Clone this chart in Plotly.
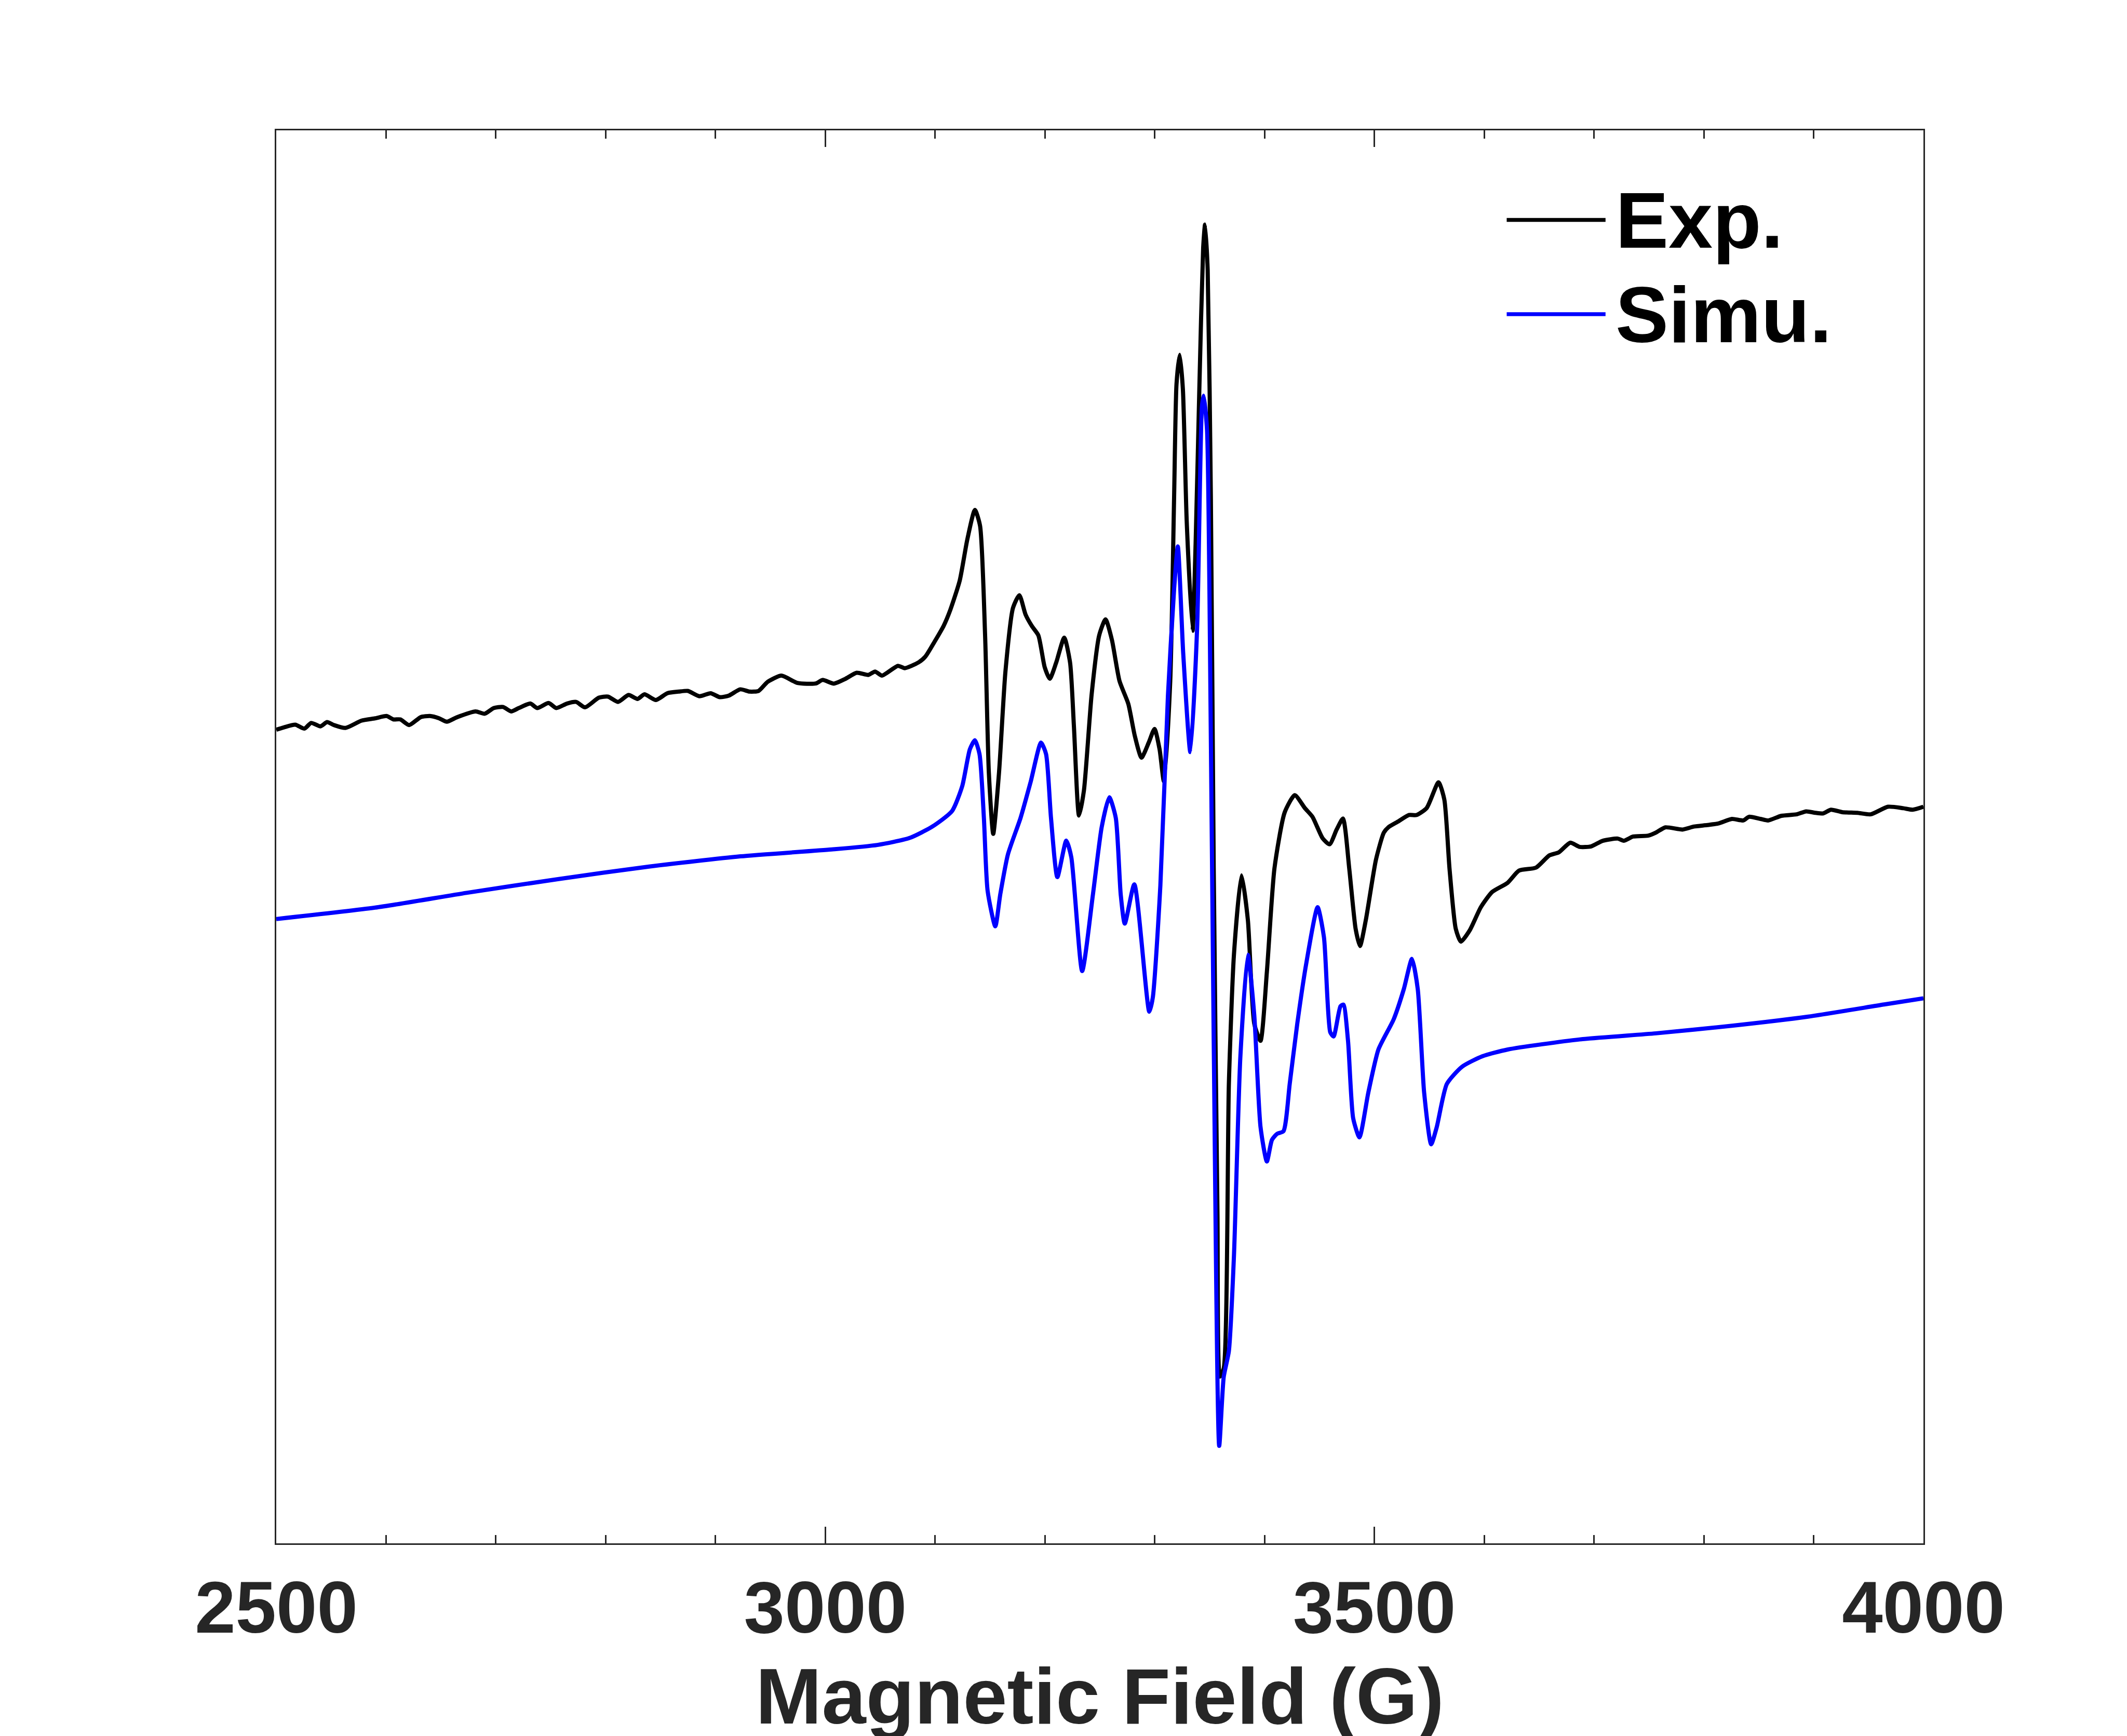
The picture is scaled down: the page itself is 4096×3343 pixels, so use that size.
import plotly.graph_objects as go

# Magnetic field (G) and intensity (a.u.)
exp_field = [2500, 2506.8, 2517.3, 2525.6, 2531.8, 2540.2, 2546.3, 2552.6, 2563, 2577.6, 2590, 2600.5, 2606.6, 2613,
             2621, 2631.6, 2640, 2648.3, 2655.3, 2664.8, 2681.5, 2689.8, 2698, 2706.5, 2713.9, 2720.9, 2731.4, 2737.6,
             2748, 2755, 2764.7, 2773, 2781.2, 2793.7, 2802.1, 2811.2, 2820.8, 2829, 2835.3, 2845.7, 2856.1, 2866.5,
             2874.8, 2885.3, 2895.6, 2903.9, 2912.2, 2922.6, 2931, 2939.2, 2947.5, 2960, 2974.6, 2991.3, 2997.5, 3007.8,
             3018.2, 3028.6, 3039.1, 3045.3, 3051.6, 3066.1, 3072.3, 3084.8, 3091, 3099.4, 3107.7, 3113.8, 3122.4,
             3129.3, 3136.2, 3140.9, 3145.5, 3148.9, 3152.9, 3158.2, 3164, 3170.9, 3176.7, 3182.4, 3188.2, 3194,
             3199.8, 3204.4, 3210.2, 3217.6, 3222.9, 3226.4, 3231, 3235.5, 3242.5, 3249.4, 3255.2, 3261, 3267.9,
             3275.9, 3281.8, 3287.9, 3294.5, 3299.8, 3304.4, 3308.3, 3314.1, 3317.6, 3319.8, 3322.7, 3325.6, 3329.1,
             3334.4, 3337.2, 3340.7, 3344.1, 3345.8, 3348.2, 3351.1, 3353.7, 3357.1, 3359.3, 3362.8, 3367.5, 3372.1,
             3379, 3384.8, 3390.6, 3396.3, 3402.1, 3409, 3418.3, 3427.5, 3436.7, 3443.6, 3452.9, 3459.2, 3465.6,
             3471.4, 3477.1, 3482.9, 3486.9, 3492.2, 3501.4, 3508.6, 3512.9, 3522.2, 3531.5, 3538.4, 3547.6, 3558.4,
             3563.7, 3568.4, 3574.1, 3578.8, 3586.8, 3597, 3607.3, 3621.3, 3631.7, 3647.2, 3659.3, 3668, 3678.4, 3687,
             3697.5, 3707.9, 3721.7, 3727, 3735.6, 3749.4, 3756.3, 3765, 3780.6, 3791.1, 3803.2, 3813.5, 3825.6, 3836,
             3841.2, 3851.6, 3858.5, 3870.6, 3884.5, 3893.2, 3901.8, 3908.8, 3915.7, 3926.1, 3939.9, 3952, 3967.7,
             3981.6, 3990.2, 4000]
exp_signal = [600, 601.7, 603.7, 600.8, 605, 602.5, 605.6, 603.4, 601.3, 606.7, 608.4, 610.1, 607.6, 607.6,
              603.4, 609.3, 610.1, 608.4, 605.9, 609.3, 613.5, 611.8, 616, 616.8, 613.5, 616, 619.3, 616,
              619.7, 616, 619.3, 620.5, 616.5, 623.6, 624.4, 620.5, 625.6, 622.7, 626.1, 621.9, 626.9, 628.1,
              628.6, 624.7, 626.9, 624, 625.2, 629.8, 628.1, 628.6, 635.3, 639.9, 634.5, 634.1, 636.7, 634,
              637.5, 642, 640.4, 642.9, 639.9, 647.1, 645.4, 649.6, 653.8, 664.8, 676.5, 688.3, 710,
              740.3, 762.1, 750.4, 669.6, 568.6, 523.2, 568.6, 642.7, 689.8, 699.2, 684.8, 676.3, 669.6,
              646, 637.6, 649.4, 667.9, 649.4, 602.3, 536.7, 555.2, 625.9, 669.6, 681.4, 666.2, 635.9,
              619.1, 595.6, 579.4, 590.5, 600.6, 585.5, 561.9, 635.9, 770.5, 854.7, 876.5, 851.3, 753.7,
              673, 736.9, 854.7, 955.6, 972.5, 938.8, 770.5, 498, 243.5, 123, 129, 339, 434,
              492.6, 459.6, 383.3, 370.6, 421.4, 497.7, 539, 551.7, 542.2, 535.8, 519.9, 515.5, 526.3,
              534.5, 497.7, 453.2, 440.5, 459.6, 504, 524.1, 528.2, 532.6, 537.1, 537.1, 542.2, 561.2,
              548.5, 497.7, 453.2, 443.7, 452, 469.2, 480.4, 487.1, 496.1, 498.3, 507.3, 509.6, 516.7, 513.6,
              514, 518.1, 519.7, 518.1, 521.2, 521.9, 524.1, 528, 526.4, 528.6, 529.7, 530.9, 534.2, 533.1,
              535.8, 534.2, 533.1, 536.5, 537.6, 539.8, 538.7, 538.3, 541, 539.2, 538.7, 537.6, 543.2,
              542.1, 541, 543.2]

sim_field = [2500, 2590, 2673.2, 2756.4, 2839.5, 2922.6, 3005.8, 3047.4, 3076.5, 3097.3, 3115.4, 3124.7, 3131.6,
             3136.2, 3140.4, 3144.4, 3147.8, 3154.8, 3159.3, 3166.3, 3177.8, 3187.1, 3196.4, 3201, 3205.5, 3211.3,
             3219.4, 3224, 3233.9, 3243.7, 3251.7, 3258.6, 3264.5, 3269, 3272.7, 3281.4, 3295, 3298.2, 3305.1, 3312,
             3317.6, 3321, 3325.9, 3332.4, 3338.6, 3342.9, 3344.5, 3347.6, 3349.8, 3353.7, 3358.7, 3362.8,
             3367.5, 3372.1, 3377.9, 3384.8, 3390.6, 3396.3, 3402.1, 3406.7, 3411.4, 3417.2, 3422.9, 3429.8, 3438,
             3448.3, 3454.1, 3459.8, 3462.9, 3469.1, 3471.8, 3476, 3480.7, 3486.4, 3494.5, 3503.7, 3517.6, 3526.8,
             3534.2, 3539.5, 3545.3, 3551.7, 3556.8, 3566, 3579.9, 3598.4, 3621.5, 3687, 3756.3, 3825.6, 3894.9,
             3964.3, 4000]
sim_signal = [460.4, 468.8, 479.7, 489.8, 499.1, 506.6, 511.7, 515, 520.1, 528.5, 540, 558.5, 585.5,
              592.2, 582.1, 535, 481.2, 455, 478.5, 508.1, 535, 561.9, 590.5, 582.1, 535, 491.3,
              518.2, 506, 422, 478.5, 528.3, 550.2, 535, 478.5, 457, 486, 392, 402.4, 485, 625,
              703.3, 735.2, 656.6, 583.5, 675.6, 837.8, 846.3, 821, 703.3, 370.6, 71.9, 122.7,
              141.8, 211.7, 357.9, 434.1, 389.7, 307.1, 281.6, 297.5, 302, 303.9, 338.8, 383.3, 427.8,
              469.1, 446.8, 376.9, 373.8, 396, 397.3, 370.6, 313.4, 299.4, 332.5, 364.2, 386.5, 408.7,
              431, 408.7, 332.5, 294.3, 307, 338.8, 351.5, 359.2, 364.2, 371.6, 376.1, 381.7, 388.4,
              397.4, 401.9]

x_ticks = [2500, 3000, 3500, 4000]
x_title = "Magnetic Field (G)"
series_names = ["Exp.", "Simu."]
series_colors = ["#000000", "#0000FF"]

FONT = "Liberation Sans, Arial, sans-serif"
AXC = "#262626"
LW = 8

fig = go.Figure()
fig.add_trace(go.Scatter(x=exp_field, y=exp_signal, mode="lines", name=series_names[0],
                         line=dict(color=series_colors[0], width=LW, shape="spline", smoothing=0.6),
                         showlegend=False))
fig.add_trace(go.Scatter(x=sim_field, y=sim_signal, mode="lines", name=series_names[1],
                         line=dict(color=series_colors[1], width=LW, shape="spline", smoothing=0.6),
                         showlegend=False))

# legend drawn manually (long line samples as in the reference)
leg_y = [0.9366, 0.8699]
for name, col, yy in zip(series_names, series_colors, leg_y):
    fig.add_shape(type="line", xref="paper", yref="paper", x0=0.747, x1=0.807, y0=yy, y1=yy,
                  line=dict(color=col, width=7.5))
    fig.add_annotation(xref="paper", yref="paper", x=0.8125, y=yy, xanchor="left", yanchor="middle",
                       text="<b>%s</b>" % name, showarrow=False,
                       font=dict(family=FONT, size=153, color="#000000"))

fig.update_layout(
    width=4096, height=3343,
    margin=dict(l=524, r=400, t=243, b=379),
    paper_bgcolor="white", plot_bgcolor="white",
    font=dict(family=FONT, color=AXC),
)
fig.update_xaxes(
    range=[2500, 4000], tickvals=x_ticks, ticktext=["<b>%d</b>" % v for v in x_ticks],
    ticks="inside", ticklen=32, tickwidth=2.5, tickcolor=AXC,
    minor=dict(dtick=100, tick0=2500, ticks="inside", ticklen=16, tickwidth=2.5, tickcolor=AXC),
    showline=True, linecolor=AXC, linewidth=3, mirror="ticks",
    showgrid=False, zeroline=False,
    tickfont=dict(family=FONT, size=141, color=AXC),
    ticklabelstandoff=0,
    title=dict(text="<b>%s</b>" % x_title, font=dict(family=FONT, size=153, color=AXC), standoff=55),
)
fig.update_yaxes(
    range=[0, 1042], showticklabels=False, ticks="",
    showline=True, linecolor=AXC, linewidth=3, mirror=True,
    showgrid=False, zeroline=False,
)

fig.write_html("out.html")
